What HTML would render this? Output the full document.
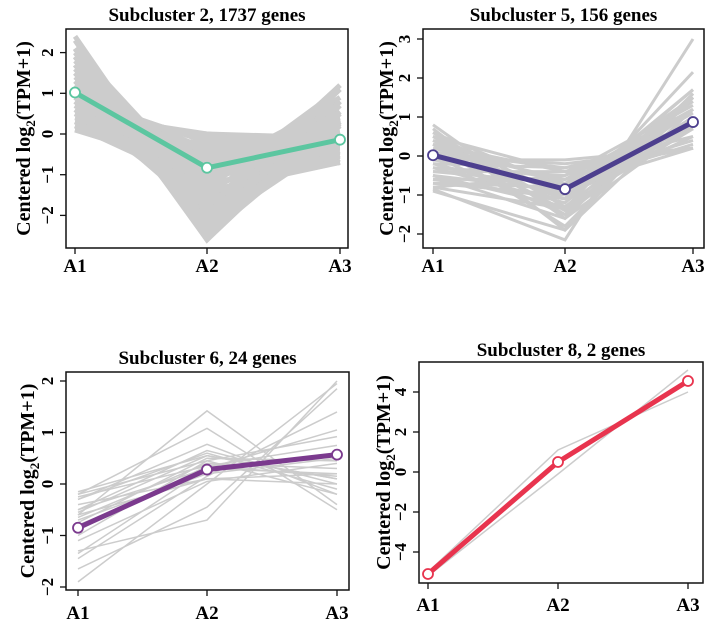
<!DOCTYPE html>
<html><head><meta charset="utf-8">
<style>
html,body{margin:0;padding:0;background:#fff;}
svg{display:block;font-family:"Liberation Serif",serif;font-weight:bold;}
</style></head>
<body>
<svg id="fig" width="715" height="624" viewBox="0 0 715 624" xmlns="http://www.w3.org/2000/svg"></svg>
<script>
const categories = ["A1","A2","A3"];
// Panel 1: Subcluster 2
const genes2 = [[0.1,0,-0.1],[0.1,-0.5,0.4],[0.1,-0.9,0.8],[0.3,0,-0.3],[0.3,-0.6,0.3],[0.3,-1.2,0.9],[0.5,0,-0.5],[0.5,-0.7,0.2],[0.5,-1.3,0.8],[0.7,-0.1,-0.6],[0.7,-0.6,-0.1],[0.7,-1.0,0.3],[0.7,-1.5,0.8],[0.9,-0.2,-0.7],[0.9,-0.7,-0.2],[0.9,-1.2,0.3],[0.9,-1.7,0.8],[1.1,-0.4,-0.7],[1.1,-0.9,-0.2],[1.1,-1.4,0.3],[1.1,-1.9,0.8],[1.3,-0.6,-0.7],[1.3,-1.1,-0.2],[1.3,-1.6,0.3],[1.3,-2.1,0.8],[1.5,-0.8,-0.7],[1.5,-1.3,-0.2],[1.5,-1.8,0.3],[1.5,-2.3,0.8],[1.7,-1.0,-0.7],[1.7,-1.5,-0.2],[1.7,-2.0,0.3],[1.7,-2.5,0.8],[1.9,-1.2,-0.7],[1.9,-1.7,-0.2],[1.9,-2.2,0.3],[1.9,-2.6,0.7],[2.1,-1.4,-0.7],[2.1,-1.9,-0.2],[2.1,-2.4,0.3],[2.1,-2.6,0.5],[2.4,-2.3,-0.1],[2.3,-2.5,0.2],[0.6,-1.8,1.2],[0.8,-2.0,1.2],[0.2,-1.3,1.1],[1.0,-2.1,1.1],[0.8,-0.45,-0.35],[1.2,-0.75,-0.45],[1.6,-1.05,-0.55],[1.0,-1.05,0.05],[1.4,-1.35,-0.05],[1.8,-1.65,-0.15],[0.6,-0.95,0.35],[1.2,-1.75,0.55],[1.6,-2.15,0.55],[2.0,-2.25,0.25],[0.4,-0.35,-0.05],[0.2,-0.25,0.05]];
const mean2 = [1.02,-0.83,-0.14];
// Panel 2: Subcluster 5
const genes5 = [[0.8,-1.6,0.8],[0.7,-1.9,1.2],[0.6,-1.3,0.7],[0.5,-1.0,0.5],[0.4,-0.7,0.3],[0.3,-0.4,0.2],[0.1,-0.3,0.2],[0.0,-0.2,0.2],[-0.1,-0.1,0.2],[-0.2,-0.3,0.5],[-0.3,-0.5,0.8],[-0.4,-0.7,1.1],[-0.5,-0.9,1.4],[-0.6,-1.1,1.7],[-0.85,-2.15,3.0],[-0.8,-1.35,2.15],[-0.7,-1.0,1.7],[0.3,-1.8,1.5],[0.5,-1.5,1.0],[-0.5,-1.6,1.6],[0.0,-0.8,0.8],[0.1,-1.1,1.0],[-0.2,-1.0,1.2],[0.2,-0.6,0.4],[-0.4,-0.4,0.8],[-0.6,-0.6,1.2],[-0.7,-0.8,1.5],[0.4,-1.4,1.0],[-0.3,-1.2,1.5],[0.6,-0.8,0.2],[-0.8,-0.5,1.3],[0.0,-1.5,1.5],[-0.5,-1.3,1.2],[0.3,-1.0,0.7],[-0.1,-0.6,0.7],[0.5,-0.4,0.2],[-0.9,-1.9,1.6]];
const mean5 = [0.02,-0.85,0.87];
// Panel 3: Subcluster 6
const genes6 = [[-0.6,1.42,-0.4],[-0.2,1.08,-0.5],[-0.3,0.77,-0.2],[-0.5,0.65,0.0],[-0.15,0.55,0.1],[-1.9,0.0,1.95],[-1.3,-0.7,2.0],[-1.65,-0.45,1.85],[-1.45,0.15,1.4],[-1.35,0.3,1.05],[-1.0,0.45,0.92],[-0.9,0.35,0.75],[-0.8,0.25,0.6],[-0.75,0.5,0.45],[-0.7,0.2,0.5],[-0.65,0.4,0.3],[-0.6,0.1,0.2],[-0.55,0.55,0.1],[-0.4,0.1,0.0],[-0.3,0.6,-0.1],[-0.2,0.45,-0.2],[-0.5,0.3,0.2],[-1.1,0.05,0.4],[-0.25,0.35,0.15]];
const mean6 = [-0.85,0.28,0.57];
// Panel 4: Subcluster 8
const genes8 = [[-5.0,1.1,4.0],[-5.2,-0.1,5.1]];
const mean8 = [-5.1,0.5,4.55];
const ticks2 = [-2,-1,0,1,2];
const ticks5 = [-2,-1,0,1,2,3];
const ticks6 = [-2,-1,0,1,2];
const ticks8 = [-4,-2,0,2,4];
const titles = ["Subcluster 2, 1737 genes","Subcluster 5, 156 genes","Subcluster 6, 24 genes","Subcluster 8, 2 genes"];

const NS="http://www.w3.org/2000/svg";
const svg=document.getElementById('fig');
function mk(tag,attrs,parent){const e=document.createElementNS(NS,tag);for(const k in attrs)e.setAttribute(k,attrs[k]);(parent||svg).appendChild(e);return e;}

const panels=[
 {name:'subcluster-2',title:titles[0],genes:genes2,mean:mean2,ticks:ticks2,color:'#5cc6a0',box:[66,29,348,248],xs:[75,207,340],v0:[0,134],pxu:40.7,titleY:21,labY:272,yTitleX:25,gw:5},
 {name:'subcluster-5',title:titles[1],genes:genes5,mean:mean5,ticks:ticks5,color:'#4d3f8e',box:[423,29,704,248],xs:[433,565,693],v0:[0,156],pxu:39,titleY:21,labY:272,yTitleX:388,gw:3},
 {name:'subcluster-6',title:titles[2],genes:genes6,mean:mean6,ticks:ticks6,color:'#7b3a8e',box:[66,372,349,590],xs:[78,207,337],v0:[0,484],pxu:51.5,titleY:364,labY:619,yTitleX:29,gw:1.5},
 {name:'subcluster-8',title:titles[3],genes:genes8,mean:mean8,ticks:ticks8,color:'#e8344e',box:[419,362,703,583],xs:[428,558,688],v0:[0,472],pxu:20,titleY:356,labY:611,yTitleX:385,gw:1.5}
];

panels.forEach(p=>{
  const g=mk('g',{});
  
  
  const yS=v=>p.v0[1]-v*p.pxu;
  const xS=i=>p.xs[i];
  const [x0,y0,x1,y1]=p.box;
  const t=mk('text',{x:(x0+x1)/2,y:p.titleY,'font-size':19,'text-anchor':'middle'},g);
  t.textContent=p.title;
  
  
  p.genes.forEach(gv=>{
    const pl=mk('polyline',{points:gv.map((v,i)=>xS(i)+','+yS(v)).join(' '),fill:'none',stroke:'#cccccc','stroke-width':p.gw},g);
    
    
  });
  const ml=mk('polyline',{points:p.mean.map((v,i)=>xS(i)+','+yS(v)).join(' '),fill:'none',stroke:p.color,'stroke-width':5,'stroke-linejoin':'round'},g);
  
  
  p.mean.forEach((v,i)=>{
    const c=mk('circle',{cx:xS(i),cy:yS(v),r:5,fill:'#fff',stroke:p.color,'stroke-width':1.8},g);
    
    
  });
  const b=mk('rect',{x:x0,y:y0,width:x1-x0,height:y1-y0,fill:'none',stroke:'#111','stroke-width':1.5},g);
  
  
  p.ticks.forEach(v=>{
    const y=yS(v);
    mk('line',{x1:x0,x2:x0-6,y1:y,y2:y,stroke:'#111','stroke-width':1.3},g);
    const tl=mk('text',{x:x0-13,y:y,'font-size':17,'text-anchor':'middle',transform:`rotate(-90 ${x0-13} ${y})`},g);
    tl.textContent=v<0?'\u2212'+Math.abs(v):String(v);
    
    
  });
  categories.forEach((c,i)=>{
    mk('line',{x1:xS(i),x2:xS(i),y1:y1,y2:y1+6,stroke:'#111','stroke-width':1.3},g);
    const xl=mk('text',{x:xS(i),y:p.labY,'font-size':19,'text-anchor':'middle'},g);
    xl.textContent=c;
    
    
  });
  const cy=(y0+y1)/2;
  const yt=mk('text',{x:p.yTitleX,y:cy,'font-size':20,'text-anchor':'middle',transform:`rotate(-90 ${p.yTitleX} ${cy})`,dy:5},g);
  yt.innerHTML='Centered log<tspan font-size="13" dy="5">2</tspan><tspan dy="-5">(TPM+1)</tspan>';
  
  
});
</script>
</body></html>
